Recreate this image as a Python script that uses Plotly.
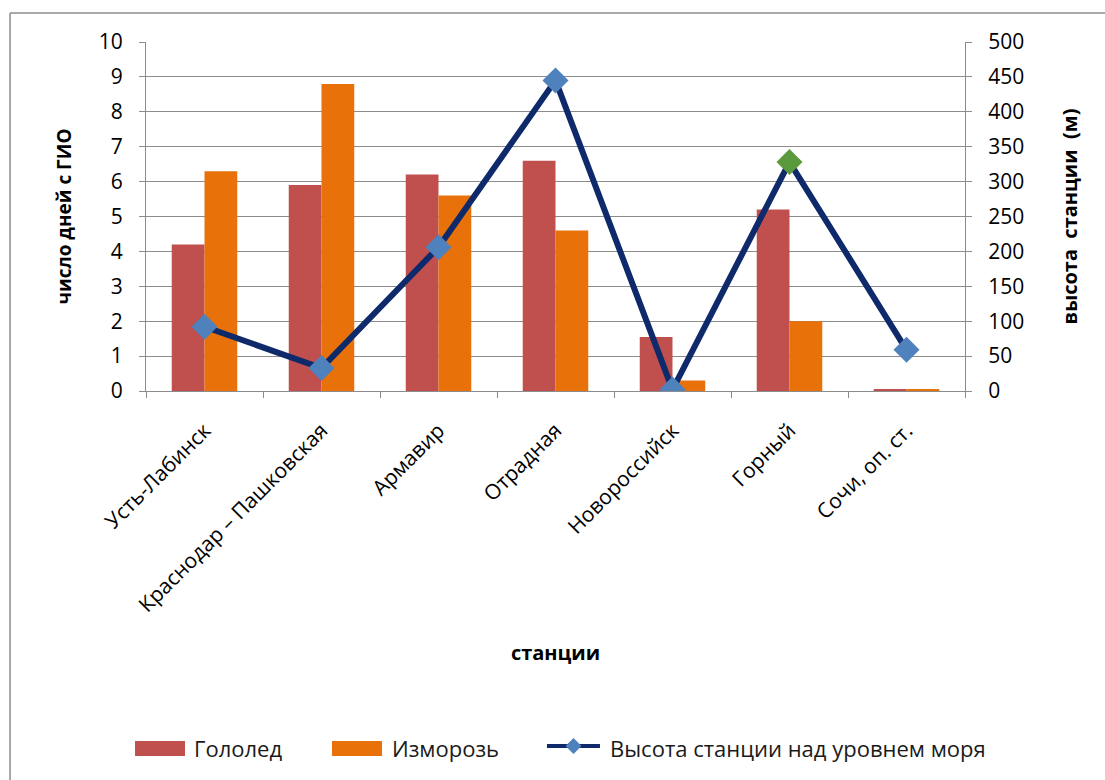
import plotly.graph_objects as go

stations = ["Усть-Лабинск", "Краснодар – Пашковская", "Армавир", "Отрадная",
            "Новороссийск", "Горный", "Сочи, оп. ст."]
glaze = [4.2, 5.9, 6.2, 6.6, 1.55, 5.2, 0.05]
rime = [6.3, 8.8, 5.6, 4.6, 0.3, 2.0, 0.03]
altitude = [92, 33, 206, 445, 2, 328, 59]
marker_colors = ["#4F81BD", "#4F81BD", "#4F81BD", "#4F81BD", "#4F81BD", "#5B9A3C", "#4F81BD"]

series_names = ["Гололед", "Изморозь", "Высота станции над уровнем моря"]

FONT = "Open Sans"
GRID = "#8C8C8C"
RED = "#C0504D"
ORANGE = "#E8710A"
NAVY = "#0E2A6B"
BLUE = "#4F81BD"

fig = go.Figure()
fig.add_trace(go.Bar(x=stations, y=glaze, name=series_names[0], marker_color=RED,
                     marker_line_width=0))
fig.add_trace(go.Bar(x=stations, y=rime, name=series_names[1], marker_color=ORANGE,
                     marker_line_width=0))
fig.add_trace(go.Scatter(x=stations, y=altitude, name=series_names[2],
                         yaxis="y2", mode="lines+markers",
                         line=dict(color=NAVY, width=6),
                         marker=dict(symbol="diamond", size=20, color=marker_colors,
                                     line=dict(width=0))))

fig.update_layout(
    width=1105, height=780,
    margin=dict(l=146, r=140, t=42, b=389),
    paper_bgcolor="white", plot_bgcolor="white",
    font=dict(family=FONT, size=16, color="#000000"),
    barmode="group", bargap=0.44, bargroupgap=0,
    showlegend=False,
    xaxis=dict(
        type="category", showgrid=False, showline=True, linecolor=GRID, linewidth=1,
        ticks="outside", tickson="boundaries", ticklen=6, tickcolor=GRID,
        tickangle=-45, tickfont=dict(size=21, family=FONT), ticklabelstandoff=18,
        title=dict(text="<b>станции</b>", font=dict(size=20, family=FONT), standoff=29),
    ),
    yaxis=dict(
        range=[0, 10], dtick=1, showgrid=True, gridcolor=GRID, gridwidth=1,
        showline=True, linecolor=GRID, ticks="outside", ticklen=6, tickcolor=GRID,
        tickfont=dict(size=21, family=FONT), zeroline=False, ticklabelstandoff=12,
        title=dict(text="<b>число дней с ГИО</b>", font=dict(size=19, family=FONT), standoff=22),
    ),
    yaxis2=dict(
        range=[0, 500], dtick=50, overlaying="y", side="right", showgrid=False,
        showline=True, linecolor=GRID, ticks="outside", ticklen=6, tickcolor=GRID,
        tickfont=dict(size=21, family=FONT), zeroline=False, ticklabelstandoff=12,
        title=dict(text="<b>высота  станции  (м)</b>", font=dict(size=20, family=FONT), standoff=39),
    ),
)

# Frame lines around the chart area
fig.add_shape(type="line", xref="paper", yref="paper", x0=-0.166, x1=1.2, y0=1.083, y1=1.083,
              line=dict(color="#8C8C8C", width=1.5))
fig.add_shape(type="line", xref="paper", yref="paper", x0=-0.166, x1=-0.166, y0=1.083, y1=-1.2,
              line=dict(color="#8C8C8C", width=1.5))

# Legend row below the chart: block swatches for bars, line-with-diamond for altitude
LEG_Y = -1.0243
fig.add_shape(type="rect", xref="paper", yref="paper", x0=-0.0134, x1=0.0476,
              y0=-1.0029, y1=-1.0458, fillcolor=RED, line=dict(width=0))
fig.add_shape(type="rect", xref="paper", yref="paper", x0=0.2271, x1=0.2882,
              y0=-1.0029, y1=-1.0458, fillcolor=ORANGE, line=dict(width=0))
fig.add_shape(type="line", xref="paper", yref="paper", x0=0.4896, x1=0.5543,
              y0=-1.0172, y1=-1.0172, line=dict(color=NAVY, width=4))
fig.add_shape(type="path", xref="paper", yref="paper", xsizemode="pixel", ysizemode="pixel",
              xanchor=0.5220, yanchor=-1.0172, path="M0,8 L8,0 L0,-8 L-8,0 Z",
              fillcolor=BLUE, line=dict(width=0))
for name, xpos in zip(series_names, [0.0562, 0.2979, 0.5641]):
    fig.add_annotation(text=name, xref="paper", yref="paper", x=xpos, y=LEG_Y,
                       xanchor="left", yanchor="middle", showarrow=False,
                       font=dict(size=22, family=FONT, color="#1A1A1A"))

fig.write_html("out.html")
